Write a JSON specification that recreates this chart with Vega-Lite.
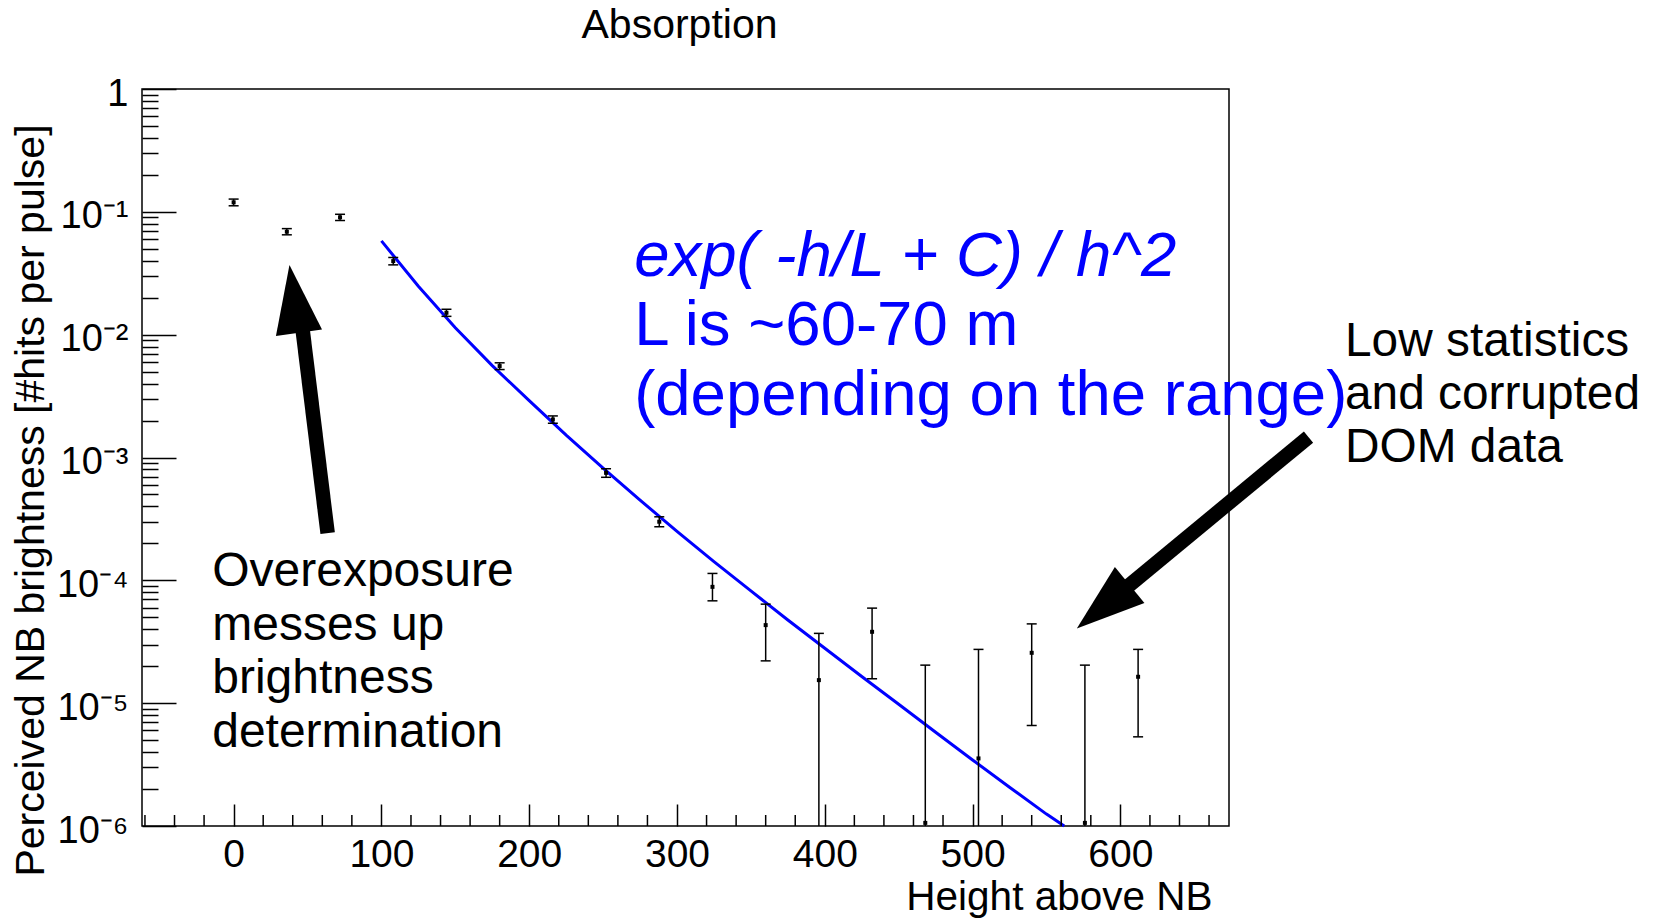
{
  "$schema": "https://vega.github.io/schema/vega-lite/v6.json",
  "width": 1087,
  "height": 737,
  "autosize": {"type": "none"},
  "padding": {"left": 142, "top": 89, "right": 434, "bottom": 92},
  "background": "white",
  "title": {"text": "Absorption", "font": "Liberation Sans", "fontSize": 41, "fontWeight": "normal", "color": "black", "anchor": "middle", "frame": "group", "dx": -6, "baseline": "alphabetic", "offset": -4},
  "config": {"view": {"stroke": "black", "strokeWidth": 1.5}, "font": "Liberation Sans", "axis": {"labelOverlap": false}},
  "datasets": {
    "points": [
      {"x": 0, "y": 0.1195, "lo": 0.112, "hi": 0.127},
      {"x": 36, "y": 0.0689, "lo": 0.065, "hi": 0.073},
      {"x": 72, "y": 0.0902, "lo": 0.085, "hi": 0.0955},
      {"x": 108, "y": 0.0397, "lo": 0.037, "hi": 0.0425},
      {"x": 144, "y": 0.01508, "lo": 0.0141, "hi": 0.0161},
      {"x": 180, "y": 0.00555, "lo": 0.0052, "hi": 0.0059},
      {"x": 216, "y": 0.00204, "lo": 0.0019, "hi": 0.00218},
      {"x": 252, "y": 0.00075, "lo": 0.00069, "hi": 0.00081},
      {"x": 288, "y": 0.0003, "lo": 0.000273, "hi": 0.000329},
      {"x": 324, "y": 0.0000885, "lo": 0.0000681, "hi": 0.0001138},
      {"x": 360, "y": 0.0000432, "lo": 0.0000221, "hi": 0.000064},
      {"x": 396, "y": 0.0000154, "lo": 0.000001, "hi": 0.000037},
      {"x": 432, "y": 0.0000381, "lo": 0.0000158, "hi": 0.0000594},
      {"x": 468, "y": 0.00000106, "lo": 0.000001, "hi": 0.0000204},
      {"x": 504, "y": 0.00000355, "lo": 0.000001, "hi": 0.0000274},
      {"x": 540, "y": 0.0000257, "lo": 0.00000658, "hi": 0.0000442},
      {"x": 576, "y": 0.00000106, "lo": 0.000001, "hi": 0.0000204},
      {"x": 612, "y": 0.0000164, "lo": 0.00000532, "hi": 0.0000274}
    ],
    "fit": [
      {"x": 100, "y": 0.058},
      {"x": 125, "y": 0.0248},
      {"x": 150, "y": 0.0114},
      {"x": 175, "y": 0.0056},
      {"x": 200, "y": 0.0029},
      {"x": 225, "y": 0.00152},
      {"x": 250, "y": 0.00082},
      {"x": 275, "y": 0.00045},
      {"x": 300, "y": 0.00025},
      {"x": 325, "y": 0.000142},
      {"x": 350, "y": 0.000082},
      {"x": 375, "y": 0.0000475},
      {"x": 400, "y": 0.000028},
      {"x": 425, "y": 0.0000165},
      {"x": 450, "y": 0.0000098},
      {"x": 475, "y": 0.0000058},
      {"x": 500, "y": 0.00000345},
      {"x": 525, "y": 0.00000207},
      {"x": 550, "y": 0.00000125},
      {"x": 562, "y": 0.000001}
    ],
    "xminor": [
      {"x": -60}, {"x": -40}, {"x": -20}, {"x": 20}, {"x": 40}, {"x": 60}, {"x": 80},
      {"x": 120}, {"x": 140}, {"x": 160}, {"x": 180}, {"x": 220}, {"x": 240}, {"x": 260}, {"x": 280},
      {"x": 320}, {"x": 340}, {"x": 360}, {"x": 380}, {"x": 420}, {"x": 440}, {"x": 460}, {"x": 480},
      {"x": 520}, {"x": 540}, {"x": 560}, {"x": 580}, {"x": 620}, {"x": 640}, {"x": 660}
    ]
  },
  "layer": [
    {
      "data": {"name": "fit"},
      "mark": {"type": "line", "color": "#0000ff", "strokeWidth": 3},
      "encoding": {
        "x": {
          "field": "x", "type": "quantitative",
          "scale": {"domain": [-62, 673.5], "nice": false, "zero": false},
          "axis": {
            "title": "Height above NB",
            "values": [0, 100, 200, 300, 400, 500, 600],
            "labelFont": "Liberation Sans", "labelFontSize": 39, "labelColor": "black",
            "labelPadding": 31.5, "labelFlush": false, "labelOverlap": false, "labelBound": false,
            "tickSize": -22,
            "tickColor": "black", "tickWidth": 1.5,
            "domain": false, "grid": false,
            "titleFont": "Liberation Sans", "titleFontSize": 40.5, "titleFontWeight": "normal", "titleColor": "black",
            "titleAlign": "right", "titleBaseline": "alphabetic", "titleX": 1070, "titleY": 83
          }
        },
        "y": {
          "field": "y", "type": "quantitative",
          "scale": {"type": "log", "domain": [0.000001, 1], "nice": false},
          "axis": {
            "title": "Perceived NB brightness [#hits per pulse]",
            "values": [0.000001, 0.000002, 0.000003, 0.000004, 0.000005, 0.000006, 0.000007, 0.000008, 0.000009,
                       0.00001, 0.00002, 0.00003, 0.00004, 0.00005, 0.00006, 0.00007, 0.00008, 0.00009,
                       0.0001, 0.0002, 0.0003, 0.0004, 0.0005, 0.0006, 0.0007, 0.0008, 0.0009,
                       0.001, 0.002, 0.003, 0.004, 0.005, 0.006, 0.007, 0.008, 0.009,
                       0.01, 0.02, 0.03, 0.04, 0.05, 0.06, 0.07, 0.08, 0.09,
                       0.1, 0.2, 0.3, 0.4, 0.5, 0.6, 0.7, 0.8, 0.9, 1],
            "labelExpr": "abs(log(datum.value)/LN10 - round(log(datum.value)/LN10)) < 0.001 ? (round(log(datum.value)/LN10) == 0 ? '1' : '10' + ['', '⁻¹', '⁻²', '⁻³', '⁻⁴', '⁻⁵', '⁻⁶'][-round(log(datum.value)/LN10)]) : ''",
            "labelFont": "Liberation Sans", "labelFontSize": 38, "labelColor": "black",
            "labelPadding": 48, "labelOffset": 5, "labelBaseline": "middle", "labelFlush": false, "labelOverlap": false, "labelBound": false,
            "tickSize": {"condition": {"test": "abs(log(datum.value)/LN10 - round(log(datum.value)/LN10)) < 0.001", "value": -34}, "value": -16},
            "tickColor": "black", "tickWidth": 1.5,
            "domain": false, "grid": false,
            "titleFont": "Liberation Sans", "titleFontSize": 41, "titleFontWeight": "normal", "titleColor": "black",
            "titleAngle": 270, "titleAlign": "center", "titleBaseline": "alphabetic", "titleX": -99, "titleY": 411
          }
        }
      }
    },
    {
      "data": {"name": "xminor"},
      "mark": {"type": "tick", "orient": "vertical", "color": "black", "size": 11, "thickness": 1.5, "opacity": 1, "yOffset": -5.5},
      "encoding": {
        "x": {"field": "x", "type": "quantitative"},
        "y": {"datum": 0.000001}
      }
    },
    {
      "data": {"name": "points"},
      "mark": {"type": "rule", "color": "black", "strokeWidth": 1.5},
      "encoding": {
        "x": {"field": "x", "type": "quantitative"},
        "y": {"field": "lo", "type": "quantitative"},
        "y2": {"field": "hi"}
      }
    },
    {
      "data": {"name": "points"},
      "mark": {"type": "tick", "orient": "horizontal", "color": "black", "size": 10, "thickness": 1.5, "opacity": 1},
      "encoding": {
        "x": {"field": "x", "type": "quantitative"},
        "y": {"field": "hi", "type": "quantitative"}
      }
    },
    {
      "data": {"name": "points"},
      "transform": [{"filter": "datum.lo > 0.00000101"}],
      "mark": {"type": "tick", "orient": "horizontal", "color": "black", "size": 10, "thickness": 1.5, "opacity": 1},
      "encoding": {
        "x": {"field": "x", "type": "quantitative"},
        "y": {"field": "lo", "type": "quantitative"}
      }
    },
    {
      "data": {"name": "points"},
      "mark": {"type": "point", "shape": "square", "filled": true, "color": "black", "size": 16, "opacity": 1},
      "encoding": {
        "x": {"field": "x", "type": "quantitative"},
        "y": {"field": "y", "type": "quantitative"}
      }
    },
    {
      "data": {"values": [{}]},
      "mark": {"type": "text", "text": "exp( -h/L + C) / h^2", "font": "Liberation Sans", "fontSize": 63.5, "fontStyle": "italic", "color": "#0000ff", "align": "left", "baseline": "alphabetic"},
      "encoding": {
        "x": {"datum": 271},
        "y": {"datum": 0.03}
      }
    },
    {
      "data": {"values": [{}]},
      "mark": {"type": "text", "text": ["L is ~60-70 m", "(depending on the range)"], "lineHeight": 70.5, "font": "Liberation Sans", "fontSize": 63.5, "color": "#0000ff", "align": "left", "baseline": "alphabetic"},
      "encoding": {
        "x": {"datum": 271},
        "y": {"datum": 0.00826}
      }
    },
    {
      "data": {"values": [{}]},
      "mark": {"type": "text", "text": ["Overexposure", "messes up", "brightness", "determination"], "lineHeight": 53.5, "font": "Liberation Sans", "fontSize": 48, "color": "black", "align": "left", "baseline": "alphabetic"},
      "encoding": {
        "x": {"datum": -14.5},
        "y": {"datum": 0.0000897}
      }
    },
    {
      "data": {"values": [{}]},
      "mark": {"type": "text", "text": ["Low statistics", "and corrupted", "DOM data"], "lineHeight": 53, "font": "Liberation Sans", "fontSize": 47.8, "color": "black", "align": "left", "baseline": "alphabetic"},
      "encoding": {
        "x": {"datum": 752},
        "y": {"datum": 0.0067}
      }
    },
    {
      "data": {"values": [{}]},
      "mark": {"type": "rule", "color": "black", "strokeWidth": 14.5, "strokeCap": "butt"},
      "encoding": {
        "x": {"datum": 63.6},
        "y": {"datum": 0.000242},
        "x2": {"datum": 45.7},
        "y2": {"datum": 0.01365}
      }
    },
    {
      "data": {"values": [{}]},
      "mark": {"type": "rule", "color": "black", "strokeWidth": 14.5, "strokeCap": "butt"},
      "encoding": {
        "x": {"datum": 727.3},
        "y": {"datum": 0.001466},
        "x2": {"datum": 601.2},
        "y2": {"datum": 0.0000817}
      }
    },
    {
      "data": {"values": [{}]},
      "mark": {"type": "point", "shape": "M0,-1L-0.68,1L0.68,1Z", "filled": true, "color": "black", "opacity": 1, "size": 4679, "angle": 352, "strokeWidth": 0},
      "encoding": {
        "x": {"datum": 41.0},
        "y": {"datum": 0.01954}
      }
    },
    {
      "data": {"values": [{}]},
      "mark": {"type": "point", "shape": "M0,-1L-0.68,1L0.68,1Z", "filled": true, "color": "black", "opacity": 1, "size": 4679, "angle": 230.6, "strokeWidth": 0},
      "encoding": {
        "x": {"datum": 588.4},
        "y": {"datum": 0.000061}
      }
    }
  ]
}
